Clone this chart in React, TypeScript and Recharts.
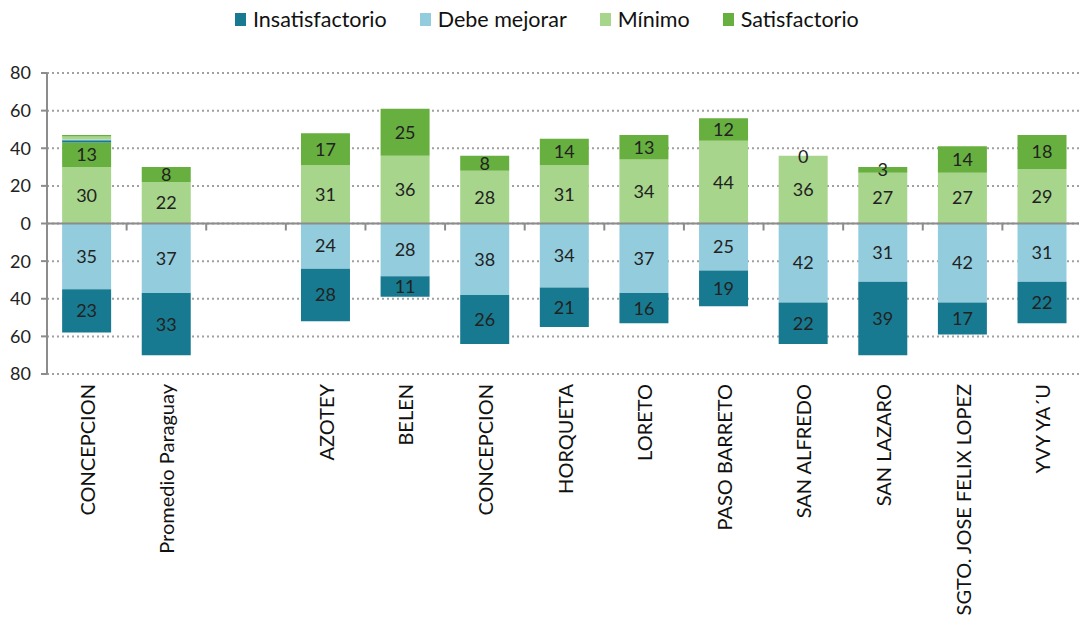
import { BarChart, Bar, XAxis, YAxis, CartesianGrid, ReferenceLine, LabelList } from "recharts";

const categories = [
  "CONCEPCION",
  "Promedio Paraguay",
  "",
  "AZOTEY",
  "BELEN",
  "CONCEPCION",
  "HORQUETA",
  "LORETO",
  "PASO BARRETO",
  "SAN ALFREDO",
  "SAN LAZARO",
  "SGTO. JOSE FELIX LOPEZ",
  "YVY YA´U",
];

// negative side (drawn below zero)
const insatisfactorio = [23, 33, null, 28, 11, 26, 21, 16, 19, 22, 39, 17, 22];
const debeMejorar = [35, 37, null, 24, 28, 38, 34, 37, 25, 42, 31, 42, 31];
// positive side
const minimo = [30, 22, null, 31, 36, 28, 31, 34, 44, 36, 27, 27, 29];
const satisfactorio = [13, 8, null, 17, 25, 8, 14, 13, 12, 0, 3, 14, 18];

// thin leftover slivers stacked on top of the first bar
const extraInsat = [1.2, null, null, null, null, null, null, null, null, null, null, null, null];
const extraDebe = [0.4, null, null, null, null, null, null, null, null, null, null, null, null];
const extraMin = [1.6, null, null, null, null, null, null, null, null, null, null, null, null];
const extraSat = [0.9, null, null, null, null, null, null, null, null, null, null, null, null];

const yTicks = [-80, -60, -40, -20, 0, 20, 40, 60, 80];

const COLORS = {
  insat: "#177A90",
  debe: "#93CDDD",
  min: "#A7D58B",
  sat: "#67AF3F",
};

const legendItems = [
  { label: "Insatisfactorio", color: COLORS.insat },
  { label: "Debe mejorar", color: COLORS.debe },
  { label: "Mínimo", color: COLORS.min },
  { label: "Satisfactorio", color: COLORS.sat },
];

const neg = (v: number | null) => (v == null ? null : -v);

const data = categories.map((name, i) => ({
  name,
  insat: neg(insatisfactorio[i]),
  debe: neg(debeMejorar[i]),
  min: minimo[i],
  sat: satisfactorio[i],
  xInsat: extraInsat[i],
  xDebe: extraDebe[i],
  xMin: extraMin[i],
  xSat: extraSat[i],
}));

const FONT = "Lato, 'Open Sans', sans-serif";

const fmtAbs = (v: any) => (v == null ? "" : String(Math.abs(Number(v))));

function CategoryTick(props: any) {
  const { x, y, payload } = props;
  return (
    <g transform={`translate(${x},${y + 2}) rotate(-90)`}>
      <text
        x={0}
        y={0}
        textAnchor="end"
        dominantBaseline="central"
        fontSize={20}
        fontFamily={FONT}
        fill="#111"
      >
        {payload.value}
      </text>
    </g>
  );
}

function ZeroLine(props: any) {
  const { x1, x2, y1 } = props;
  const n = categories.length;
  const step = (x2 - x1) / n;
  const marks = [];
  for (let k = 1; k <= n; k++) {
    const x = x1 + step * k;
    marks.push(<line key={k} x1={x} x2={x} y1={y1} y2={y1 + 7} stroke="#8c8c8c" strokeWidth={2} />);
  }
  return (
    <g>
      <line x1={x1} x2={x2} y1={y1} y2={y1} stroke="#8c8c8c" strokeWidth={2} />
      {marks}
    </g>
  );
}

const labelStyle = { fontSize: 18, fontFamily: FONT, fill: "#222" };

// a zero "Satisfactorio" segment has no rect, so its "0" is drawn at the top of the Mínimo rect
function ZeroSatLabel(props: any) {
  const { x, y, width, value } = props;
  if (value !== 0) return null;
  return (
    <text
      x={x + width / 2}
      y={y}
      textAnchor="middle"
      dominantBaseline="central"
      fontSize={18}
      fontFamily={FONT}
      fill="#222"
    >
      0
    </text>
  );
}

export default function App() {
  return (
    <div style={{ position: "absolute", left: 0, top: 0, width: 1079, height: 619, overflow: "hidden", background: "#fff" }}>
      <div
        style={{
          position: "absolute",
          left: 235,
          top: 6,
          display: "flex",
          alignItems: "center",
          fontFamily: FONT,
          fontSize: 21.5,
          color: "#111",
          whiteSpace: "nowrap",
        }}
      >
        {legendItems.map((it) => (
          <div key={it.label} style={{ display: "flex", alignItems: "center", marginRight: 33 }}>
            <span style={{ display: "inline-block", width: 11, height: 13, background: it.color, marginRight: 7 }} />
            <span>{it.label}</span>
          </div>
        ))}
      </div>
      <BarChart
        width={1090}
        height={619}
        data={data}
        stackOffset="sign"
        barCategoryGap="19%"
        margin={{ top: 73, right: 8, bottom: 0, left: 7 }}
      >
        <CartesianGrid vertical={false} stroke="#a0a0a0" strokeWidth={2} strokeDasharray="2 3" />
        <XAxis
          dataKey="name"
          interval={0}
          height={245}
          axisLine={false}
          tickLine={false}
          tick={<CategoryTick />}
        />
        <YAxis
          domain={[-80, 80]}
          ticks={yTicks}
          interval={0}
          width={40}
          tickFormatter={(v: number) => String(Math.abs(v))}
          axisLine={{ stroke: "#8c8c8c", strokeWidth: 2 }}
          tickLine={{ stroke: "#8c8c8c", strokeWidth: 2 }}
          tickSize={6}
          tickMargin={10}
          tick={{ fontSize: 18, fontFamily: FONT, fill: "#222" }}
        />
        <Bar dataKey="debe" stackId="a" fill={COLORS.debe} isAnimationActive={false}>
          <LabelList dataKey="debe" position="center" formatter={fmtAbs} style={labelStyle} />
        </Bar>
        <Bar dataKey="insat" stackId="a" fill={COLORS.insat} isAnimationActive={false}>
          <LabelList dataKey="insat" position="center" formatter={fmtAbs} style={labelStyle} />
        </Bar>
        <Bar dataKey="min" stackId="a" fill={COLORS.min} isAnimationActive={false}>
          <LabelList dataKey="min" position="center" formatter={fmtAbs} style={labelStyle} />
          <LabelList dataKey="sat" content={<ZeroSatLabel />} />
        </Bar>
        <Bar dataKey="sat" stackId="a" fill={COLORS.sat} isAnimationActive={false}>
          <LabelList dataKey="sat" position="center" formatter={fmtAbs} style={labelStyle} />
        </Bar>
        <Bar dataKey="xInsat" stackId="a" fill={COLORS.insat} isAnimationActive={false} />
        <Bar dataKey="xDebe" stackId="a" fill={COLORS.debe} isAnimationActive={false} />
        <Bar dataKey="xMin" stackId="a" fill={COLORS.min} isAnimationActive={false} />
        <Bar dataKey="xSat" stackId="a" fill={COLORS.sat} isAnimationActive={false} />
        <ReferenceLine y={0} shape={<ZeroLine />} />
      </BarChart>
    </div>
  );
}
